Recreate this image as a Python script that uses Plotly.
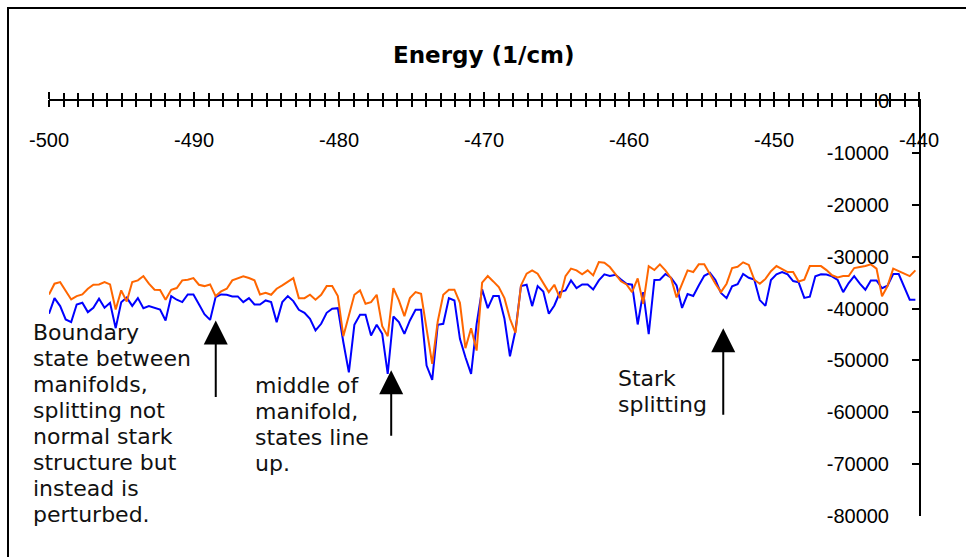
import plotly.graph_objects as go

energy = [
    -500.00, -499.62, -499.23, -498.85, -498.47, -498.09, -497.70, -497.32, -496.94, -496.55,
    -496.17, -495.79, -495.40, -495.02, -494.64, -494.26, -493.87, -493.49, -493.11, -492.72,
    -492.34, -491.96, -491.57, -491.19, -490.81, -490.43, -490.04, -489.66, -489.28, -488.89,
    -488.51, -488.13, -487.74, -487.36, -486.98, -486.60, -486.21, -485.83, -485.45, -485.06,
    -484.68, -484.30, -483.91, -483.53, -483.15, -482.77, -482.38, -482.00, -481.62, -481.23,
    -480.85, -480.47, -480.08, -479.70, -479.32, -478.94, -478.55, -478.17, -477.79, -477.40,
    -477.02, -476.64, -476.25, -475.87, -475.49, -475.11, -474.72, -474.34, -473.96, -473.57,
    -473.19, -472.81, -472.42, -472.04, -471.66, -471.28, -470.89, -470.51, -470.13, -469.74,
    -469.36, -468.98, -468.59, -468.21, -467.83, -467.45, -467.06, -466.68, -466.30, -465.91,
    -465.53, -465.15, -464.76, -464.38, -464.00, -463.62, -463.23, -462.85, -462.47, -462.08,
    -461.70, -461.32, -460.93, -460.55, -460.17, -459.79, -459.40, -459.02, -458.64, -458.25,
    -457.87, -457.49, -457.10, -456.72, -456.34, -455.96, -455.57, -455.19, -454.81, -454.42,
    -454.04, -453.66, -453.27, -452.89, -452.51, -452.13, -451.74, -451.36, -450.98, -450.59,
    -450.21, -449.83, -449.44, -449.06, -448.68, -448.30, -447.91, -447.53, -447.15, -446.76,
    -446.38, -446.00, -445.61, -445.23, -444.85, -444.47, -444.08, -443.70, -443.32, -442.93,
    -442.55, -442.17, -441.78, -441.40, -441.02, -440.64, -440.25,
]

blue_series = [
    -41020, -38000, -39540, -42120, -42630, -39220, -38900, -40700, -39860, -38120,
    -39860, -38900, -43790, -38800, -37900, -39500, -38000, -39930, -39540, -39860,
    -40190, -42310, -37610, -38310, -38770, -37290, -37290, -39200, -41100, -42200,
    -37800, -37290, -37350, -37670, -37670, -38770, -38000, -39220, -39220, -38450,
    -38770, -42630, -38770, -37610, -38580, -40250, -40830, -41980, -44240, -42950,
    -40830, -40060, -39930, -46500, -52300, -43150, -41210, -41210, -45210, -43150,
    -44880, -52610, -41540, -42630, -44880, -42310, -40250, -40250, -51000, -53770,
    -43150, -42950, -38000, -38450, -45850, -49400, -52610, -43000, -36320, -39930,
    -37610, -37610, -41980, -49210, -44240, -35680, -35420, -39540, -35680, -36710,
    -41020, -39410, -36840, -36510, -34580, -36060, -35360, -35360, -36320, -34580,
    -33420, -33750, -33500, -34420, -35220, -35400, -43080, -36840, -44950, -34500,
    -34450, -33350, -34070, -35550, -39900, -37220, -37580, -35550, -33700, -33130,
    -34500, -37000, -38000, -35740, -35320, -33350, -34070, -34420, -38380, -39500,
    -34500, -33420, -32970, -33420, -34710, -34950, -37950, -37730, -33780, -33420,
    -33450, -33800, -34500, -36840, -35100, -33780, -35220, -36380, -34580, -34580,
    -36100, -35600, -33350, -33350, -35740, -38310, -38310,
]

orange_series = [
    -37290, -35220, -34910, -36710, -38250, -37610, -37290, -36190, -35420, -35360,
    -34910, -35360, -40190, -36510, -38640, -34910, -34580, -33750, -35220, -36380,
    -36450, -38310, -36380, -36060, -34580, -34450, -34130, -35420, -35680, -35360,
    -37610, -36710, -36190, -34580, -34260, -33810, -34130, -34580, -37290, -36960,
    -37350, -36190, -35550, -34910, -34130, -38000, -38000, -37350, -38310, -37350,
    -35680, -35680, -37610, -45340, -41340, -37350, -36510, -39090, -38770, -37350,
    -43410, -45340, -36060, -38450, -41470, -38000, -36840, -37160, -43920, -50680,
    -42500, -37350, -36380, -36380, -38900, -47660, -43790, -48110, -35030, -33750,
    -34780, -35870, -38000, -41980, -44690, -35550, -33290, -32650, -33290, -35220,
    -36840, -35420, -38000, -33750, -32320, -32650, -33420, -32650, -33620, -31050,
    -31180, -32010, -33300, -34750, -35360, -36840, -34200, -39090, -31850, -32580,
    -31490, -32650, -34150, -37850, -35250, -32650, -32970, -31490, -31490, -33420,
    -35220, -36840, -35220, -32200, -31950, -31100, -31600, -34450, -35220, -34300,
    -32800, -31820, -32460, -32970, -32970, -34800, -34450, -31820, -31820, -31820,
    -32600, -33600, -34000, -33750, -33750, -32200, -32000, -31820, -31490, -32320,
    -37640, -35680, -32320, -32840, -33290, -33750, -32650,
]

x_tick_values = [-500, -490, -480, -470, -460, -450, -440]
x_tick_labels = ["-500", "-490", "-480", "-470", "-460", "-450", "-440"]
y_tick_values = [0, -10000, -20000, -30000, -40000, -50000, -60000, -70000, -80000]
y_tick_labels = ["0", "-10000", "-20000", "-30000", "-40000", "-50000", "-60000", "-70000", "-80000"]

x_range = [-500, -440]
y_range = [-80000, 0]

note_boundary = ["Boundary", "state between", "manifolds,", "splitting not",
                 "normal stark", "structure but", "instead is", "perturbed."]
note_middle = ["middle of", "manifold,", "states line", "up."]
note_stark = ["Stark", "splitting"]

# layout constants (pixel positions inside the 966x557 figure)
PLOT_L, PLOT_R, PLOT_T, PLOT_B = 49, 919, 101, 516
LINE_STEP = 26
TICK_HALF = 6  # ticks cross the x axis line: half above, half below


def px_to_paper_x(px):
    return (px - PLOT_L) / (PLOT_R - PLOT_L)


def px_to_paper_y(py):
    return (PLOT_B - py) / (PLOT_B - PLOT_T)


notes = [(note_boundary, 31, 332), (note_middle, 253, 385), (note_stark, 616, 378)]
arrows = [(-488.5, -42300, 78), (-476.4, -51900, 67), (-453.5, -43800, 88)]

fig = go.Figure()
fig.add_trace(go.Scatter(x=energy, y=blue_series, mode="lines", xaxis="x", yaxis="y",
                         line=dict(color="#0000FF", width=2), showlegend=False))
fig.add_trace(go.Scatter(x=energy, y=orange_series, mode="lines", xaxis="x2", yaxis="y",
                         line=dict(color="#FF6600", width=2), showlegend=False))

tickfont = dict(family="Liberation Sans, Arial", size=20, color="black")
minor_up = dict(tickmode="linear", tick0=-500, dtick=1, ticks="outside", ticklen=TICK_HALF,
                tickwidth=1.5, tickcolor="black", showgrid=False)
minor_low = dict(tickmode="linear", tick0=-500, dtick=1, ticks="outside", ticklen=TICK_HALF,
                 tickwidth=1.5, tickcolor="black", showgrid=False)

fig.update_layout(
    width=966, height=557,
    margin=dict(l=PLOT_L, r=966 - PLOT_R, t=PLOT_T, b=557 - PLOT_B),
    paper_bgcolor="white", plot_bgcolor="white",
    showlegend=False,
    # main x axis: line at y = 0 (top of plot), labels below the line, ticks pointing up
    xaxis=dict(
        range=x_range, side="top", anchor="y",
        showgrid=False, zeroline=False,
        showline=True, linecolor="black", linewidth=2,
        tickmode="array", tickvals=x_tick_values, ticktext=x_tick_labels,
        ticks="outside", ticklen=TICK_HALF + 1, tickwidth=1.5, tickcolor="black",
        minor=minor_up,
        ticklabelposition="inside", ticklabeloverflow="allow",
        ticklabelstandoff=33,
        tickfont=tickfont,
    ),
    # overlay x axis, shifted just below the line, ticks pointing up -> lower half of the crossing ticks
    xaxis2=dict(
        range=x_range, side="top", overlaying="x", anchor="free",
        position=1 - TICK_HALF / (PLOT_B - PLOT_T),
        showgrid=False, zeroline=False, showline=False,
        tickmode="array", tickvals=x_tick_values,
        ticks="outside", ticklen=TICK_HALF + 1, tickwidth=1.5, tickcolor="black",
        minor=minor_low,
        showticklabels=False,
    ),
    yaxis=dict(
        range=y_range, side="right", anchor="x",
        showgrid=False, zeroline=False,
        showline=True, linecolor="black", linewidth=2,
        tickmode="array", tickvals=y_tick_values, ticktext=y_tick_labels,
        ticks="inside", ticklen=7, tickwidth=1.5, tickcolor="black",
        ticklabelposition="inside", ticklabeloverflow="allow",
        ticklabelstandoff=24,
        tickfont=tickfont,
    ),
)

fig.add_annotation(text="<b>Energy (1/cm)</b>", xref="paper", yref="paper",
                   x=0.5, y=px_to_paper_y(55), xanchor="center", yanchor="middle", showarrow=False,
                   font=dict(family="DejaVu Sans, Verdana", size=23, color="black"))

for lines, left_px, first_center in notes:
    for k, line in enumerate(lines):
        fig.add_annotation(text=line, xref="paper", yref="paper",
                           x=px_to_paper_x(left_px), y=px_to_paper_y(first_center + k * LINE_STEP),
                           xanchor="left", yanchor="middle", align="left", showarrow=False,
                           font=dict(family="DejaVu Sans, Verdana", size=22, color="#111111"))

for ax_, ay_, length in arrows:
    fig.add_annotation(x=ax_, y=ay_, xref="x", yref="y", text="", showarrow=True,
                       ax=0, ay=length, arrowhead=2, arrowsize=2.4, arrowwidth=2,
                       arrowcolor="black", standoff=0)

fig.add_shape(type="rect", xref="paper", yref="paper",
              x0=px_to_paper_x(8), x1=px_to_paper_x(1000),
              y0=px_to_paper_y(600), y1=px_to_paper_y(8),
              line=dict(color="black", width=2), fillcolor="rgba(0,0,0,0)", layer="above")

fig.write_html("out.html")
